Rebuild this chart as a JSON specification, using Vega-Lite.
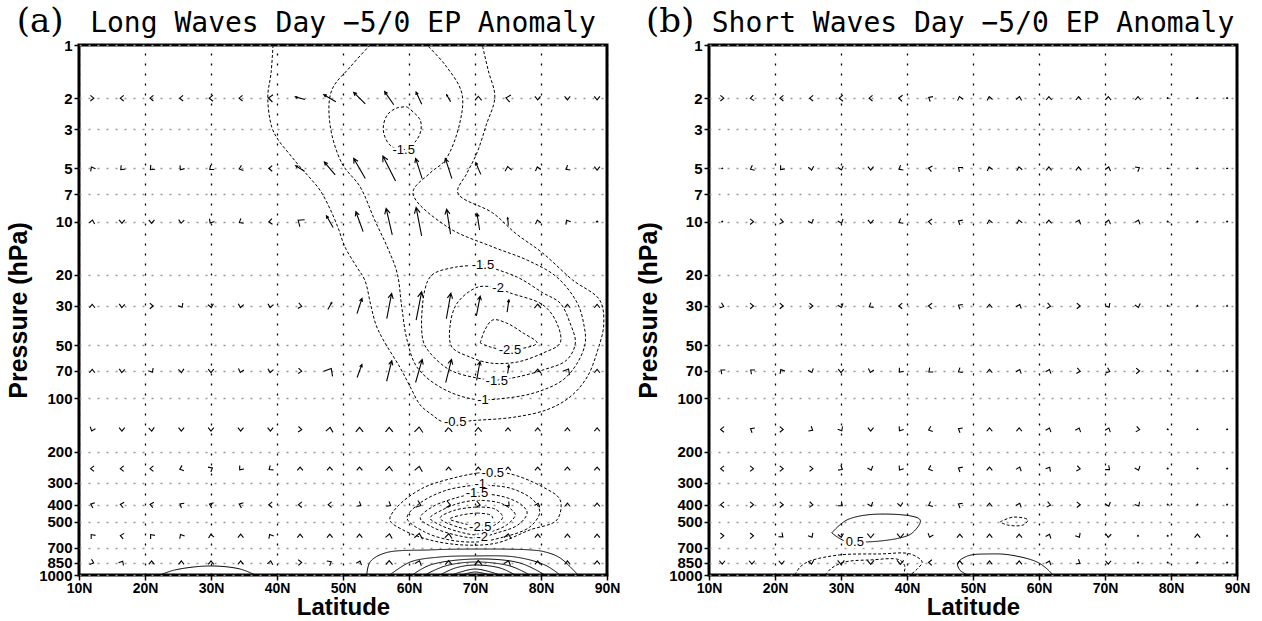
{
"$schema": "https://vega.github.io/schema/vega-lite/v6.json",
"background": "white",
"padding": {"left": 5, "top": 3, "right": 5, "bottom": 0},
"bounds": "flush",
"spacing": 102,
"config": {
 "view": {"stroke": "black", "strokeWidth": 3},
 "axis": {"labelFont": "Liberation Sans", "labelFontWeight": "bold", "labelFontSize": 14, "labelColor": "black", "tickColor": "black", "tickWidth": 1.5, "tickSize": 5, "domain": false, "titleColor": "black", "titleFont": "Liberation Sans", "titleFontWeight": "bold", "labelOverlap": false, "labelBound": false, "gridOpacity": 1},
 "axisX": {"gridColor": "black", "gridDash": [2, 8], "gridWidth": 1.3, "labelFlush": false, "titleFontSize": 24, "labelPadding": 1, "titlePadding": 0},
 "axisY": {"gridColor": "#999999", "gridDash": [2, 7], "gridWidth": 1.3, "titleFontSize": 25, "labelFontSize": 15, "labelPadding": 2, "titlePadding": 7},
 "title": {"font": "DejaVu Sans Mono", "fontSize": 28, "fontWeight": "normal", "color": "black", "anchor": "middle", "offset": -33}
},
"datasets": {
"tags": [{"g":"a","t":"(a)","lat":4.1,"p":0.74},{"g":"b","t":"(b)","lat":4.1,"p":0.74}],
"labels": [
{"g":"a","t":"-1.5","lat":59.2,"p":3.93},
{"g":"a","t":"-1.5","lat":71.2,"p":17.6},
{"g":"a","t":"-2","lat":73.5,"p":23.7},
{"g":"a","t":"-2.5","lat":75.3,"p":53.2},
{"g":"a","t":"-1.5","lat":73.3,"p":79.8},
{"g":"a","t":"-1","lat":71.2,"p":102},
{"g":"a","t":"-0.5","lat":67.0,"p":136},
{"g":"a","t":"-0.5","lat":72.7,"p":265},
{"g":"a","t":"-1","lat":70.8,"p":305},
{"g":"a","t":"-1.5","lat":70.3,"p":343},
{"g":"a","t":"-2.5","lat":70.8,"p":535},
{"g":"a","t":"-2","lat":71.1,"p":609},
{"g":"b","t":"0.5","lat":32.1,"p":650}
],
"contours": [
{"g":"a","id":"c1","s":"neg","o":1,"lat":39.4,"p":1},
{"g":"a","id":"c1","s":"neg","o":2,"lat":39.1,"p":1.44},
{"g":"a","id":"c1","s":"neg","o":3,"lat":38.6,"p":1.97},
{"g":"a","id":"c1","s":"neg","o":4,"lat":39.2,"p":2.91},
{"g":"a","id":"c1","s":"neg","o":5,"lat":40.2,"p":3.45},
{"g":"a","id":"c1","s":"neg","o":6,"lat":42.0,"p":4.19},
{"g":"a","id":"c1","s":"neg","o":7,"lat":43.5,"p":4.9},
{"g":"a","id":"c1","s":"neg","o":8,"lat":45.0,"p":5.66},
{"g":"a","id":"c1","s":"neg","o":9,"lat":46.5,"p":6.62},
{"g":"a","id":"c1","s":"neg","o":10,"lat":47.9,"p":8.26},
{"g":"a","id":"c1","s":"neg","o":11,"lat":49.2,"p":10.7},
{"g":"a","id":"c1","s":"neg","o":12,"lat":50.3,"p":13.9},
{"g":"a","id":"c1","s":"neg","o":13,"lat":52.1,"p":18.1},
{"g":"a","id":"c1","s":"neg","o":14,"lat":53.3,"p":21.4},
{"g":"a","id":"c1","s":"neg","o":15,"lat":54.2,"p":29.6},
{"g":"a","id":"c1","s":"neg","o":16,"lat":55.0,"p":38.4},
{"g":"a","id":"c1","s":"neg","o":17,"lat":56.1,"p":46.7},
{"g":"a","id":"c1","s":"neg","o":18,"lat":58.6,"p":66.5},
{"g":"a","id":"c1","s":"neg","o":19,"lat":60.2,"p":86.3},
{"g":"a","id":"c1","s":"neg","o":20,"lat":61.7,"p":109},
{"g":"a","id":"c1","s":"neg","o":21,"lat":63.5,"p":124},
{"g":"a","id":"c1","s":"neg","o":22,"lat":65.2,"p":136},
{"g":"a","id":"c1","s":"neg","o":23,"lat":70.3,"p":133},
{"g":"a","id":"c1","s":"neg","o":24,"lat":75.8,"p":128},
{"g":"a","id":"c1","s":"neg","o":25,"lat":80.9,"p":116},
{"g":"a","id":"c1","s":"neg","o":26,"lat":84.4,"p":98.2},
{"g":"a","id":"c1","s":"neg","o":27,"lat":87.0,"p":75.7},
{"g":"a","id":"c1","s":"neg","o":28,"lat":88.6,"p":53.2},
{"g":"a","id":"c1","s":"neg","o":29,"lat":89.5,"p":38.4},
{"g":"a","id":"c1","s":"neg","o":30,"lat":88.9,"p":27.8},
{"g":"a","id":"c1","s":"neg","o":31,"lat":84.8,"p":21.4},
{"g":"a","id":"c1","s":"neg","o":32,"lat":80.2,"p":15},
{"g":"a","id":"c1","s":"neg","o":33,"lat":76.1,"p":11.6},
{"g":"a","id":"c1","s":"neg","o":34,"lat":72.7,"p":8.93},
{"g":"a","id":"c1","s":"neg","o":35,"lat":67.4,"p":6.88},
{"g":"a","id":"c1","s":"neg","o":36,"lat":68.8,"p":5.3},
{"g":"a","id":"c1","s":"neg","o":37,"lat":70.3,"p":4.08},
{"g":"a","id":"c1","s":"neg","o":38,"lat":71.7,"p":2.84},
{"g":"a","id":"c1","s":"neg","o":39,"lat":73.0,"p":1.97},
{"g":"a","id":"c1","s":"neg","o":40,"lat":72.0,"p":1.39},
{"g":"a","id":"c1","s":"neg","o":41,"lat":71.1,"p":1},
{"g":"a","id":"c2","s":"neg","o":1,"lat":54.1,"p":1},
{"g":"a","id":"c2","s":"neg","o":2,"lat":51.1,"p":1.33},
{"g":"a","id":"c2","s":"neg","o":3,"lat":48.3,"p":1.8},
{"g":"a","id":"c2","s":"neg","o":4,"lat":48.0,"p":2.76},
{"g":"a","id":"c2","s":"neg","o":5,"lat":49.8,"p":4.65},
{"g":"a","id":"c2","s":"neg","o":6,"lat":52.6,"p":6.36},
{"g":"a","id":"c2","s":"neg","o":7,"lat":54.8,"p":9.79},
{"g":"a","id":"c2","s":"neg","o":8,"lat":56.7,"p":13.9},
{"g":"a","id":"c2","s":"neg","o":9,"lat":58.2,"p":19.5},
{"g":"a","id":"c2","s":"neg","o":10,"lat":58.9,"p":30.4},
{"g":"a","id":"c2","s":"neg","o":11,"lat":59.7,"p":46.7},
{"g":"a","id":"c2","s":"neg","o":12,"lat":61.2,"p":66.5},
{"g":"a","id":"c2","s":"neg","o":13,"lat":64.7,"p":86.3},
{"g":"a","id":"c2","s":"neg","o":14,"lat":69.7,"p":101},
{"g":"a","id":"c2","s":"neg","o":15,"lat":74.8,"p":99.6},
{"g":"a","id":"c2","s":"neg","o":16,"lat":79.4,"p":92.1},
{"g":"a","id":"c2","s":"neg","o":17,"lat":83.3,"p":78.8},
{"g":"a","id":"c2","s":"neg","o":18,"lat":85.5,"p":63.1},
{"g":"a","id":"c2","s":"neg","o":19,"lat":86.7,"p":48.6},
{"g":"a","id":"c2","s":"neg","o":20,"lat":86.5,"p":38.4},
{"g":"a","id":"c2","s":"neg","o":21,"lat":85.5,"p":28.9},
{"g":"a","id":"c2","s":"neg","o":22,"lat":82.4,"p":20.6},
{"g":"a","id":"c2","s":"neg","o":23,"lat":77.9,"p":16.5},
{"g":"a","id":"c2","s":"neg","o":24,"lat":72.7,"p":13.9},
{"g":"a","id":"c2","s":"neg","o":25,"lat":65.8,"p":10.7},
{"g":"a","id":"c2","s":"neg","o":26,"lat":60.6,"p":6.88},
{"g":"a","id":"c2","s":"neg","o":27,"lat":63.2,"p":5.3},
{"g":"a","id":"c2","s":"neg","o":28,"lat":65.5,"p":4.48},
{"g":"a","id":"c2","s":"neg","o":29,"lat":67.7,"p":2.76},
{"g":"a","id":"c2","s":"neg","o":30,"lat":68.0,"p":1.87},
{"g":"a","id":"c2","s":"neg","o":31,"lat":65.5,"p":1.3},
{"g":"a","id":"c2","s":"neg","o":32,"lat":62.7,"p":1},
{"g":"a","id":"c3","s":"neg","o":1,"lat":59.7,"p":2.24},
{"g":"a","id":"c3","s":"neg","o":2,"lat":61.7,"p":2.66},
{"g":"a","id":"c3","s":"neg","o":3,"lat":61.7,"p":3.15},
{"g":"a","id":"c3","s":"neg","o":4,"lat":60.5,"p":3.68},
{"g":"a","id":"c3","s":"neg","o":5,"lat":59.1,"p":3.93},
{"g":"a","id":"c3","s":"neg","o":6,"lat":57.1,"p":3.68},
{"g":"a","id":"c3","s":"neg","o":7,"lat":56.1,"p":3.03},
{"g":"a","id":"c3","s":"neg","o":8,"lat":56.7,"p":2.49},
{"g":"a","id":"c3","s":"neg","o":9,"lat":58.2,"p":2.27},
{"g":"a","id":"c3","s":"neg","o":10,"lat":59.7,"p":2.24},
{"g":"a","id":"c4","s":"neg","o":1,"lat":71.2,"p":17.6},
{"g":"a","id":"c4","s":"neg","o":2,"lat":67.0,"p":18.1},
{"g":"a","id":"c4","s":"neg","o":3,"lat":63.5,"p":20.0},
{"g":"a","id":"c4","s":"neg","o":4,"lat":62.4,"p":24.3},
{"g":"a","id":"c4","s":"neg","o":5,"lat":62.1,"p":46.7},
{"g":"a","id":"c4","s":"neg","o":6,"lat":63.2,"p":55.4},
{"g":"a","id":"c4","s":"neg","o":7,"lat":66.2,"p":69.1},
{"g":"a","id":"c4","s":"neg","o":8,"lat":70.3,"p":76.7},
{"g":"a","id":"c4","s":"neg","o":9,"lat":73.3,"p":78.8},
{"g":"a","id":"c4","s":"neg","o":10,"lat":76.4,"p":75.7},
{"g":"a","id":"c4","s":"neg","o":11,"lat":80.3,"p":69.1},
{"g":"a","id":"c4","s":"neg","o":12,"lat":83.9,"p":60.7},
{"g":"a","id":"c4","s":"neg","o":13,"lat":85.2,"p":48.6},
{"g":"a","id":"c4","s":"neg","o":14,"lat":84.4,"p":37.5},
{"g":"a","id":"c4","s":"neg","o":15,"lat":82.9,"p":28.9},
{"g":"a","id":"c4","s":"neg","o":16,"lat":80.3,"p":25.3},
{"g":"a","id":"c4","s":"neg","o":17,"lat":76.4,"p":20.6},
{"g":"a","id":"c4","s":"neg","o":18,"lat":71.2,"p":17.6},
{"g":"a","id":"c5","s":"neg","o":1,"lat":73.5,"p":23.7},
{"g":"a","id":"c5","s":"neg","o":2,"lat":70.5,"p":23.4},
{"g":"a","id":"c5","s":"neg","o":3,"lat":67.3,"p":28.9},
{"g":"a","id":"c5","s":"neg","o":4,"lat":66.2,"p":39.5},
{"g":"a","id":"c5","s":"neg","o":5,"lat":66.5,"p":51.2},
{"g":"a","id":"c5","s":"neg","o":6,"lat":69.2,"p":58.3},
{"g":"a","id":"c5","s":"neg","o":7,"lat":72.3,"p":63.1},
{"g":"a","id":"c5","s":"neg","o":8,"lat":76.4,"p":62.3},
{"g":"a","id":"c5","s":"neg","o":9,"lat":80.3,"p":55.4},
{"g":"a","id":"c5","s":"neg","o":10,"lat":82.9,"p":48.6},
{"g":"a","id":"c5","s":"neg","o":11,"lat":82.4,"p":37.5},
{"g":"a","id":"c5","s":"neg","o":12,"lat":80.3,"p":29.6},
{"g":"a","id":"c5","s":"neg","o":13,"lat":75.3,"p":25.3},
{"g":"a","id":"c5","s":"neg","o":14,"lat":73.5,"p":23.7},
{"g":"a","id":"c6","s":"neg","o":1,"lat":70.8,"p":48.6},
{"g":"a","id":"c6","s":"neg","o":2,"lat":71.5,"p":41.0},
{"g":"a","id":"c6","s":"neg","o":3,"lat":72.7,"p":36.0},
{"g":"a","id":"c6","s":"neg","o":4,"lat":74.8,"p":37.5},
{"g":"a","id":"c6","s":"neg","o":5,"lat":77.3,"p":42.7},
{"g":"a","id":"c6","s":"neg","o":6,"lat":79.4,"p":48.6},
{"g":"a","id":"c6","s":"neg","o":7,"lat":75.3,"p":53.2},
{"g":"a","id":"c6","s":"neg","o":8,"lat":72.3,"p":51.2},
{"g":"a","id":"c6","s":"neg","o":9,"lat":70.8,"p":48.6},
{"g":"a","id":"e1","s":"neg","o":1,"lat":70.3,"p":265},
{"g":"a","id":"e1","s":"neg","o":2,"lat":74.8,"p":265},
{"g":"a","id":"e1","s":"neg","o":3,"lat":80.3,"p":318},
{"g":"a","id":"e1","s":"neg","o":4,"lat":82.9,"p":376},
{"g":"a","id":"e1","s":"neg","o":5,"lat":82.4,"p":488},
{"g":"a","id":"e1","s":"neg","o":6,"lat":78.3,"p":556},
{"g":"a","id":"e1","s":"neg","o":7,"lat":73.3,"p":659},
{"g":"a","id":"e1","s":"neg","o":8,"lat":68.2,"p":676},
{"g":"a","id":"e1","s":"neg","o":9,"lat":63.2,"p":634},
{"g":"a","id":"e1","s":"neg","o":10,"lat":59.1,"p":556},
{"g":"a","id":"e1","s":"neg","o":11,"lat":57.1,"p":488},
{"g":"a","id":"e1","s":"neg","o":12,"lat":58.2,"p":412},
{"g":"a","id":"e1","s":"neg","o":13,"lat":62.1,"p":322},
{"g":"a","id":"e1","s":"neg","o":14,"lat":67.3,"p":279},
{"g":"a","id":"e1","s":"neg","o":15,"lat":70.3,"p":265},
{"g":"a","id":"e2","s":"neg","o":1,"lat":70.3,"p":309},
{"g":"a","id":"e2","s":"neg","o":2,"lat":75.3,"p":322},
{"g":"a","id":"e2","s":"neg","o":3,"lat":78.8,"p":376},
{"g":"a","id":"e2","s":"neg","o":4,"lat":79.8,"p":440},
{"g":"a","id":"e2","s":"neg","o":5,"lat":78.3,"p":535},
{"g":"a","id":"e2","s":"neg","o":6,"lat":73.8,"p":617},
{"g":"a","id":"e2","s":"neg","o":7,"lat":70.3,"p":650},
{"g":"a","id":"e2","s":"neg","o":8,"lat":66.2,"p":634},
{"g":"a","id":"e2","s":"neg","o":9,"lat":62.4,"p":571},
{"g":"a","id":"e2","s":"neg","o":10,"lat":59.7,"p":476},
{"g":"a","id":"e2","s":"neg","o":11,"lat":61.7,"p":391},
{"g":"a","id":"e2","s":"neg","o":12,"lat":65.8,"p":330},
{"g":"a","id":"e2","s":"neg","o":13,"lat":70.3,"p":309},
{"g":"a","id":"e3","s":"neg","o":1,"lat":70.3,"p":343},
{"g":"a","id":"e3","s":"neg","o":2,"lat":74.5,"p":362},
{"g":"a","id":"e3","s":"neg","o":3,"lat":77.1,"p":402},
{"g":"a","id":"e3","s":"neg","o":4,"lat":77.9,"p":446},
{"g":"a","id":"e3","s":"neg","o":5,"lat":76.5,"p":521},
{"g":"a","id":"e3","s":"neg","o":6,"lat":73.3,"p":578},
{"g":"a","id":"e3","s":"neg","o":7,"lat":70.3,"p":617},
{"g":"a","id":"e3","s":"neg","o":8,"lat":67.0,"p":593},
{"g":"a","id":"e3","s":"neg","o":9,"lat":63.5,"p":535},
{"g":"a","id":"e3","s":"neg","o":10,"lat":61.7,"p":476},
{"g":"a","id":"e3","s":"neg","o":11,"lat":63.5,"p":412},
{"g":"a","id":"e3","s":"neg","o":12,"lat":67.0,"p":367},
{"g":"a","id":"e3","s":"neg","o":13,"lat":70.3,"p":343},
{"g":"a","id":"e4","s":"neg","o":1,"lat":70.3,"p":376},
{"g":"a","id":"e4","s":"neg","o":2,"lat":73.8,"p":391},
{"g":"a","id":"e4","s":"neg","o":3,"lat":75.6,"p":429},
{"g":"a","id":"e4","s":"neg","o":4,"lat":76.1,"p":457},
{"g":"a","id":"e4","s":"neg","o":5,"lat":74.8,"p":521},
{"g":"a","id":"e4","s":"neg","o":6,"lat":72.3,"p":571},
{"g":"a","id":"e4","s":"neg","o":7,"lat":70.3,"p":593},
{"g":"a","id":"e4","s":"neg","o":8,"lat":67.7,"p":571},
{"g":"a","id":"e4","s":"neg","o":9,"lat":64.7,"p":521},
{"g":"a","id":"e4","s":"neg","o":10,"lat":63.2,"p":476},
{"g":"a","id":"e4","s":"neg","o":11,"lat":65.0,"p":429},
{"g":"a","id":"e4","s":"neg","o":12,"lat":67.7,"p":391},
{"g":"a","id":"e4","s":"neg","o":13,"lat":70.3,"p":376},
{"g":"a","id":"e5","s":"neg","o":1,"lat":70.3,"p":412},
{"g":"a","id":"e5","s":"neg","o":2,"lat":73.0,"p":423},
{"g":"a","id":"e5","s":"neg","o":3,"lat":74.2,"p":470},
{"g":"a","id":"e5","s":"neg","o":4,"lat":73.0,"p":521},
{"g":"a","id":"e5","s":"neg","o":5,"lat":70.3,"p":556},
{"g":"a","id":"e5","s":"neg","o":6,"lat":67.4,"p":535},
{"g":"a","id":"e5","s":"neg","o":7,"lat":64.7,"p":476},
{"g":"a","id":"e5","s":"neg","o":8,"lat":67.0,"p":429},
{"g":"a","id":"e5","s":"neg","o":9,"lat":70.3,"p":412},
{"g":"a","id":"e6","s":"neg","o":1,"lat":70.3,"p":446},
{"g":"a","id":"e6","s":"neg","o":2,"lat":72.3,"p":457},
{"g":"a","id":"e6","s":"neg","o":3,"lat":72.7,"p":476},
{"g":"a","id":"e6","s":"neg","o":4,"lat":72.0,"p":508},
{"g":"a","id":"e6","s":"neg","o":5,"lat":70.3,"p":528},
{"g":"a","id":"e6","s":"neg","o":6,"lat":68.0,"p":508},
{"g":"a","id":"e6","s":"neg","o":7,"lat":66.2,"p":482},
{"g":"a","id":"e6","s":"neg","o":8,"lat":68.0,"p":457},
{"g":"a","id":"e6","s":"neg","o":9,"lat":70.3,"p":446},
{"g":"a","id":"s0","s":"pos","o":1,"lat":22.3,"p":1000},
{"g":"a","id":"s0","s":"pos","o":2,"lat":24.5,"p":937},
{"g":"a","id":"s0","s":"pos","o":3,"lat":29.8,"p":889},
{"g":"a","id":"s0","s":"pos","o":4,"lat":34.4,"p":925},
{"g":"a","id":"s0","s":"pos","o":5,"lat":36.7,"p":1000},
{"g":"a","id":"s1","s":"pos","o":1,"lat":53.6,"p":1000},
{"g":"a","id":"s1","s":"pos","o":2,"lat":54.1,"p":844},
{"g":"a","id":"s1","s":"pos","o":3,"lat":56.4,"p":750},
{"g":"a","id":"s1","s":"pos","o":4,"lat":63.2,"p":721},
{"g":"a","id":"s1","s":"pos","o":5,"lat":70.0,"p":713},
{"g":"a","id":"s1","s":"pos","o":6,"lat":78.3,"p":721},
{"g":"a","id":"s1","s":"pos","o":7,"lat":80.6,"p":740},
{"g":"a","id":"s1","s":"pos","o":8,"lat":82.9,"p":801},
{"g":"a","id":"s1","s":"pos","o":9,"lat":85.6,"p":1000},
{"g":"a","id":"s2","s":"pos","o":1,"lat":57.1,"p":1000},
{"g":"a","id":"s2","s":"pos","o":2,"lat":60.2,"p":844},
{"g":"a","id":"s2","s":"pos","o":3,"lat":64.7,"p":791},
{"g":"a","id":"s2","s":"pos","o":4,"lat":70.0,"p":780},
{"g":"a","id":"s2","s":"pos","o":5,"lat":76.1,"p":791},
{"g":"a","id":"s2","s":"pos","o":6,"lat":80.6,"p":878},
{"g":"a","id":"s2","s":"pos","o":7,"lat":82.9,"p":1000},
{"g":"a","id":"s3","s":"pos","o":1,"lat":60.5,"p":1000},
{"g":"a","id":"s3","s":"pos","o":2,"lat":63.2,"p":878},
{"g":"a","id":"s3","s":"pos","o":3,"lat":70.0,"p":812},
{"g":"a","id":"s3","s":"pos","o":4,"lat":76.8,"p":855},
{"g":"a","id":"s3","s":"pos","o":5,"lat":80.6,"p":1000},
{"g":"a","id":"s4","s":"pos","o":1,"lat":62.4,"p":1000},
{"g":"a","id":"s4","s":"pos","o":2,"lat":65.5,"p":889},
{"g":"a","id":"s4","s":"pos","o":3,"lat":70.0,"p":844},
{"g":"a","id":"s4","s":"pos","o":4,"lat":75.3,"p":889},
{"g":"a","id":"s4","s":"pos","o":5,"lat":78.3,"p":1000},
{"g":"a","id":"s5","s":"pos","o":1,"lat":64.7,"p":1000},
{"g":"a","id":"s5","s":"pos","o":2,"lat":67.0,"p":913},
{"g":"a","id":"s5","s":"pos","o":3,"lat":70.0,"p":878},
{"g":"a","id":"s5","s":"pos","o":4,"lat":73.8,"p":913},
{"g":"a","id":"s5","s":"pos","o":5,"lat":76.1,"p":1000},
{"g":"a","id":"s6","s":"pos","o":1,"lat":66.5,"p":1000},
{"g":"a","id":"s6","s":"pos","o":2,"lat":70.0,"p":925},
{"g":"a","id":"s6","s":"pos","o":3,"lat":73.8,"p":1000},
{"g":"a","id":"s7","s":"pos","o":1,"lat":68.0,"p":1000},
{"g":"a","id":"s7","s":"pos","o":2,"lat":70.0,"p":962},
{"g":"a","id":"s7","s":"pos","o":3,"lat":72.3,"p":1000},
{"g":"b","id":"r1","s":"pos","o":1,"lat":28.6,"p":578},
{"g":"b","id":"r1","s":"pos","o":2,"lat":30.9,"p":488},
{"g":"b","id":"r1","s":"pos","o":3,"lat":35.9,"p":452},
{"g":"b","id":"r1","s":"pos","o":4,"lat":42.0,"p":488},
{"g":"b","id":"r1","s":"pos","o":5,"lat":40.8,"p":578},
{"g":"b","id":"r1","s":"pos","o":6,"lat":38.9,"p":617},
{"g":"b","id":"r1","s":"pos","o":7,"lat":33.9,"p":650},
{"g":"b","id":"r1","s":"pos","o":8,"lat":30.6,"p":642},
{"g":"b","id":"r1","s":"pos","o":9,"lat":28.6,"p":578},
{"g":"b","id":"r2","s":"neg","o":1,"lat":54.1,"p":501},
{"g":"b","id":"r2","s":"neg","o":2,"lat":56.1,"p":470},
{"g":"b","id":"r2","s":"neg","o":3,"lat":58.3,"p":488},
{"g":"b","id":"r2","s":"neg","o":4,"lat":57.6,"p":521},
{"g":"b","id":"r2","s":"neg","o":5,"lat":55.2,"p":521},
{"g":"b","id":"r2","s":"neg","o":6,"lat":54.1,"p":501},
{"g":"b","id":"r3","s":"neg","o":1,"lat":23.0,"p":1000},
{"g":"b","id":"r3","s":"neg","o":2,"lat":23.8,"p":901},
{"g":"b","id":"r3","s":"neg","o":3,"lat":25.3,"p":833},
{"g":"b","id":"r3","s":"neg","o":4,"lat":29.8,"p":770},
{"g":"b","id":"r3","s":"neg","o":5,"lat":35.9,"p":760},
{"g":"b","id":"r3","s":"neg","o":6,"lat":40.5,"p":760},
{"g":"b","id":"r3","s":"neg","o":7,"lat":42.3,"p":844},
{"g":"b","id":"r3","s":"neg","o":8,"lat":41.7,"p":913},
{"g":"b","id":"r3","s":"neg","o":9,"lat":40.5,"p":1000},
{"g":"b","id":"r4","s":"neg","o":1,"lat":27.6,"p":1000},
{"g":"b","id":"r4","s":"neg","o":2,"lat":28.6,"p":913},
{"g":"b","id":"r4","s":"neg","o":3,"lat":30.6,"p":844},
{"g":"b","id":"r4","s":"neg","o":4,"lat":34.4,"p":822},
{"g":"b","id":"r4","s":"neg","o":5,"lat":38.9,"p":822},
{"g":"b","id":"r4","s":"neg","o":6,"lat":39.7,"p":901},
{"g":"b","id":"r4","s":"neg","o":7,"lat":39.4,"p":1000},
{"g":"b","id":"r5","s":"pos","o":1,"lat":49.2,"p":1000},
{"g":"b","id":"r5","s":"pos","o":2,"lat":48.0,"p":937},
{"g":"b","id":"r5","s":"pos","o":3,"lat":47.7,"p":855},
{"g":"b","id":"r5","s":"pos","o":4,"lat":49.2,"p":780},
{"g":"b","id":"r5","s":"pos","o":5,"lat":52.6,"p":760},
{"g":"b","id":"r5","s":"pos","o":6,"lat":55.6,"p":770},
{"g":"b","id":"r5","s":"pos","o":7,"lat":59.7,"p":844},
{"g":"b","id":"r5","s":"pos","o":8,"lat":61.4,"p":937},
{"g":"b","id":"r5","s":"pos","o":9,"lat":62.1,"p":1000}
],
"arrows": [
{"g":"a","p":2,"lat":12,"dir":90,"mag":1},{"g":"a","p":2,"lat":16.5,"dir":270,"mag":1},{"g":"a","p":2,"lat":21,"dir":270,"mag":1},{"g":"a","p":2,"lat":25.5,"dir":270,"mag":1},{"g":"a","p":2,"lat":30,"dir":270,"mag":1.1},{"g":"a","p":2,"lat":34.5,"dir":270,"mag":1},{"g":"a","p":2,"lat":39,"dir":275,"mag":1.3},{"g":"a","p":2,"lat":43.5,"dir":285,"mag":2.5},{"g":"a","p":2,"lat":48,"dir":300,"mag":3.5},{"g":"a","p":2,"lat":52.5,"dir":315,"mag":4.1},{"g":"a","p":2,"lat":57,"dir":325,"mag":4},{"g":"a","p":2,"lat":61.5,"dir":335,"mag":3.4},{"g":"a","p":2,"lat":66,"dir":330,"mag":2},{"g":"a","p":2,"lat":70.5,"dir":0,"mag":1.2},{"g":"a","p":2,"lat":75,"dir":280,"mag":1.3},{"g":"a","p":2,"lat":79.5,"dir":180,"mag":1},{"g":"a","p":2,"lat":84,"dir":180,"mag":1},{"g":"a","p":2,"lat":88.5,"dir":180,"mag":1},
{"g":"a","p":5,"lat":12,"dir":330,"mag":1},{"g":"a","p":5,"lat":16.5,"dir":225,"mag":1},{"g":"a","p":5,"lat":21,"dir":225,"mag":1.1},{"g":"a","p":5,"lat":25.5,"dir":215,"mag":1},{"g":"a","p":5,"lat":30,"dir":230,"mag":1},{"g":"a","p":5,"lat":34.5,"dir":250,"mag":1},{"g":"a","p":5,"lat":39,"dir":270,"mag":1},{"g":"a","p":5,"lat":43.5,"dir":302,"mag":2.6},{"g":"a","p":5,"lat":48,"dir":320,"mag":4.2},{"g":"a","p":5,"lat":52.5,"dir":330,"mag":5.8},{"g":"a","p":5,"lat":57,"dir":333,"mag":7},{"g":"a","p":5,"lat":61.5,"dir":342,"mag":5.3},{"g":"a","p":5,"lat":66,"dir":342,"mag":5.3},{"g":"a","p":5,"lat":70.5,"dir":337,"mag":3.2},{"g":"a","p":5,"lat":75,"dir":350,"mag":1.2},{"g":"a","p":5,"lat":79.5,"dir":345,"mag":1},{"g":"a","p":5,"lat":84,"dir":240,"mag":1},{"g":"a","p":5,"lat":88.5,"dir":180,"mag":1},
{"g":"a","p":10,"lat":12,"dir":10,"mag":1},{"g":"a","p":10,"lat":16.5,"dir":180,"mag":1},{"g":"a","p":10,"lat":21,"dir":180,"mag":1},{"g":"a","p":10,"lat":25.5,"dir":185,"mag":1},{"g":"a","p":10,"lat":30,"dir":210,"mag":1},{"g":"a","p":10,"lat":34.5,"dir":240,"mag":1},{"g":"a","p":10,"lat":39,"dir":265,"mag":1},{"g":"a","p":10,"lat":43.5,"dir":305,"mag":1.5},{"g":"a","p":10,"lat":48,"dir":330,"mag":3.4},{"g":"a","p":10,"lat":52.5,"dir":340,"mag":5.3},{"g":"a","p":10,"lat":57,"dir":347,"mag":6.8},{"g":"a","p":10,"lat":61.5,"dir":349,"mag":7.2},{"g":"a","p":10,"lat":66,"dir":351,"mag":6.3},{"g":"a","p":10,"lat":70.5,"dir":351,"mag":4.2},{"g":"a","p":10,"lat":75,"dir":355,"mag":2},{"g":"a","p":10,"lat":79.5,"dir":345,"mag":1},{"g":"a","p":10,"lat":84,"dir":330,"mag":1},{"g":"a","p":10,"lat":88.5,"dir":0,"mag":0.4},
{"g":"a","p":30,"lat":12,"dir":0,"mag":1},{"g":"a","p":30,"lat":16.5,"dir":185,"mag":1},{"g":"a","p":30,"lat":21,"dir":90,"mag":1},{"g":"a","p":30,"lat":25.5,"dir":150,"mag":1},{"g":"a","p":30,"lat":30,"dir":170,"mag":1},{"g":"a","p":30,"lat":34.5,"dir":190,"mag":1},{"g":"a","p":30,"lat":39,"dir":190,"mag":1},{"g":"a","p":30,"lat":43.5,"dir":100,"mag":1},{"g":"a","p":30,"lat":48,"dir":30,"mag":2},{"g":"a","p":30,"lat":52.5,"dir":18,"mag":4},{"g":"a","p":30,"lat":57,"dir":11,"mag":6.4},{"g":"a","p":30,"lat":61.5,"dir":11,"mag":7.2},{"g":"a","p":30,"lat":66,"dir":10,"mag":6.5},{"g":"a","p":30,"lat":70.5,"dir":11,"mag":5},{"g":"a","p":30,"lat":75,"dir":8,"mag":3.1},{"g":"a","p":30,"lat":79.5,"dir":0,"mag":1.2},{"g":"a","p":30,"lat":84,"dir":0,"mag":1},{"g":"a","p":30,"lat":88.5,"dir":0,"mag":1},
{"g":"a","p":70,"lat":12,"dir":0,"mag":1},{"g":"a","p":70,"lat":16.5,"dir":185,"mag":1},{"g":"a","p":70,"lat":21,"dir":150,"mag":1},{"g":"a","p":70,"lat":25.5,"dir":175,"mag":1},{"g":"a","p":70,"lat":30,"dir":180,"mag":1},{"g":"a","p":70,"lat":34.5,"dir":195,"mag":1},{"g":"a","p":70,"lat":39,"dir":190,"mag":1},{"g":"a","p":70,"lat":43.5,"dir":95,"mag":1},{"g":"a","p":70,"lat":48,"dir":30,"mag":1.8},{"g":"a","p":70,"lat":52.5,"dir":20,"mag":3.5},{"g":"a","p":70,"lat":57,"dir":14,"mag":5.3},{"g":"a","p":70,"lat":61.5,"dir":16,"mag":6},{"g":"a","p":70,"lat":66,"dir":14,"mag":6},{"g":"a","p":70,"lat":70.5,"dir":10,"mag":4.8},{"g":"a","p":70,"lat":75,"dir":8,"mag":3},{"g":"a","p":70,"lat":79.5,"dir":0,"mag":1.2},{"g":"a","p":70,"lat":84,"dir":30,"mag":1.4},{"g":"a","p":70,"lat":88.5,"dir":0,"mag":1},
{"g":"a","p":150,"lat":12,"dir":200,"mag":1},{"g":"a","p":150,"lat":16.5,"dir":180,"mag":1},{"g":"a","p":150,"lat":21,"dir":175,"mag":1},{"g":"a","p":150,"lat":25.5,"dir":180,"mag":1},{"g":"a","p":150,"lat":30,"dir":180,"mag":1},{"g":"a","p":150,"lat":34.5,"dir":180,"mag":1},{"g":"a","p":150,"lat":39,"dir":180,"mag":1},{"g":"a","p":150,"lat":43.5,"dir":95,"mag":1},{"g":"a","p":150,"lat":48,"dir":10,"mag":1.3},{"g":"a","p":150,"lat":52.5,"dir":0,"mag":1.3},{"g":"a","p":150,"lat":57,"dir":0,"mag":1.3},{"g":"a","p":150,"lat":61.5,"dir":5,"mag":1.5},{"g":"a","p":150,"lat":66,"dir":0,"mag":1.3},{"g":"a","p":150,"lat":70.5,"dir":0,"mag":1.2},{"g":"a","p":150,"lat":75,"dir":0,"mag":1},{"g":"a","p":150,"lat":79.5,"dir":0,"mag":1},{"g":"a","p":150,"lat":84,"dir":0,"mag":1},{"g":"a","p":150,"lat":88.5,"dir":0,"mag":1},
{"g":"a","p":250,"lat":12,"dir":270,"mag":1},{"g":"a","p":250,"lat":16.5,"dir":270,"mag":1},{"g":"a","p":250,"lat":21,"dir":270,"mag":1},{"g":"a","p":250,"lat":25.5,"dir":250,"mag":1},{"g":"a","p":250,"lat":30,"dir":60,"mag":1},{"g":"a","p":250,"lat":34.5,"dir":220,"mag":1},{"g":"a","p":250,"lat":39,"dir":235,"mag":1},{"g":"a","p":250,"lat":43.5,"dir":0,"mag":1},{"g":"a","p":250,"lat":48,"dir":0,"mag":1},{"g":"a","p":250,"lat":52.5,"dir":0,"mag":1},{"g":"a","p":250,"lat":57,"dir":5,"mag":1.3},{"g":"a","p":250,"lat":61.5,"dir":10,"mag":1.4},{"g":"a","p":250,"lat":66,"dir":0,"mag":1},{"g":"a","p":250,"lat":70.5,"dir":0,"mag":1},{"g":"a","p":250,"lat":75,"dir":0,"mag":1},{"g":"a","p":250,"lat":79.5,"dir":0,"mag":1},{"g":"a","p":250,"lat":84,"dir":0,"mag":1},{"g":"a","p":250,"lat":88.5,"dir":0,"mag":1},
{"g":"a","p":400,"lat":12,"dir":290,"mag":1},{"g":"a","p":400,"lat":16.5,"dir":280,"mag":1},{"g":"a","p":400,"lat":21,"dir":280,"mag":1},{"g":"a","p":400,"lat":25.5,"dir":300,"mag":1},{"g":"a","p":400,"lat":30,"dir":290,"mag":1},{"g":"a","p":400,"lat":34.5,"dir":290,"mag":1},{"g":"a","p":400,"lat":39,"dir":270,"mag":1},{"g":"a","p":400,"lat":43.5,"dir":270,"mag":1},{"g":"a","p":400,"lat":48,"dir":270,"mag":1},{"g":"a","p":400,"lat":52.5,"dir":120,"mag":1},{"g":"a","p":400,"lat":57,"dir":120,"mag":1},{"g":"a","p":400,"lat":61.5,"dir":110,"mag":1.3},{"g":"a","p":400,"lat":66,"dir":100,"mag":1.2},{"g":"a","p":400,"lat":70.5,"dir":100,"mag":1.2},{"g":"a","p":400,"lat":75,"dir":135,"mag":1},{"g":"a","p":400,"lat":79.5,"dir":20,"mag":1},{"g":"a","p":400,"lat":84,"dir":0,"mag":1},{"g":"a","p":400,"lat":88.5,"dir":0,"mag":1},
{"g":"a","p":600,"lat":12,"dir":320,"mag":1},{"g":"a","p":600,"lat":16.5,"dir":280,"mag":1},{"g":"a","p":600,"lat":21,"dir":320,"mag":1},{"g":"a","p":600,"lat":25.5,"dir":330,"mag":1},{"g":"a","p":600,"lat":30,"dir":350,"mag":1},{"g":"a","p":600,"lat":34.5,"dir":0,"mag":1},{"g":"a","p":600,"lat":39,"dir":330,"mag":1},{"g":"a","p":600,"lat":43.5,"dir":0,"mag":1},{"g":"a","p":600,"lat":48,"dir":0,"mag":1},{"g":"a","p":600,"lat":52.5,"dir":0,"mag":1},{"g":"a","p":600,"lat":57,"dir":10,"mag":1.2},{"g":"a","p":600,"lat":61.5,"dir":10,"mag":1.5},{"g":"a","p":600,"lat":66,"dir":5,"mag":1.3},{"g":"a","p":600,"lat":70.5,"dir":0,"mag":1.3},{"g":"a","p":600,"lat":75,"dir":10,"mag":1.3},{"g":"a","p":600,"lat":79.5,"dir":0,"mag":1},{"g":"a","p":600,"lat":84,"dir":0,"mag":1},{"g":"a","p":600,"lat":88.5,"dir":0,"mag":1},
{"g":"a","p":850,"lat":12,"dir":110,"mag":1},{"g":"a","p":850,"lat":16.5,"dir":30,"mag":1},{"g":"a","p":850,"lat":21,"dir":0,"mag":1},{"g":"a","p":850,"lat":25.5,"dir":0,"mag":1},{"g":"a","p":850,"lat":30,"dir":0,"mag":1},{"g":"a","p":850,"lat":34.5,"dir":0,"mag":1},{"g":"a","p":850,"lat":39,"dir":10,"mag":1},{"g":"a","p":850,"lat":43.5,"dir":90,"mag":1},{"g":"a","p":850,"lat":48,"dir":60,"mag":1},{"g":"a","p":850,"lat":52.5,"dir":20,"mag":1},{"g":"a","p":850,"lat":57,"dir":0,"mag":1.2},{"g":"a","p":850,"lat":61.5,"dir":20,"mag":1.2},{"g":"a","p":850,"lat":66,"dir":0,"mag":1.2},{"g":"a","p":850,"lat":70.5,"dir":0,"mag":1.3},{"g":"a","p":850,"lat":75,"dir":20,"mag":1.2},{"g":"a","p":850,"lat":79.5,"dir":0,"mag":1},{"g":"a","p":850,"lat":84,"dir":0,"mag":1},{"g":"a","p":850,"lat":88.5,"dir":0,"mag":1},
{"g":"b","p":2,"lat":12,"dir":90,"mag":1},{"g":"b","p":2,"lat":16.5,"dir":260,"mag":1},{"g":"b","p":2,"lat":21,"dir":270,"mag":1},{"g":"b","p":2,"lat":25.5,"dir":270,"mag":1},{"g":"b","p":2,"lat":30,"dir":270,"mag":1.1},{"g":"b","p":2,"lat":34.5,"dir":270,"mag":1},{"g":"b","p":2,"lat":39,"dir":275,"mag":1.1},{"g":"b","p":2,"lat":43.5,"dir":300,"mag":1},{"g":"b","p":2,"lat":48,"dir":345,"mag":1},{"g":"b","p":2,"lat":52.5,"dir":350,"mag":1},{"g":"b","p":2,"lat":57,"dir":10,"mag":1},{"g":"b","p":2,"lat":61.5,"dir":0,"mag":1},{"g":"b","p":2,"lat":66,"dir":0,"mag":1},{"g":"b","p":2,"lat":70.5,"dir":0,"mag":1},{"g":"b","p":2,"lat":75,"dir":0,"mag":1},{"g":"b","p":2,"lat":79.5,"dir":0,"mag":0.3},{"g":"b","p":2,"lat":84,"dir":0,"mag":0.3},{"g":"b","p":2,"lat":88.5,"dir":0,"mag":0.3},
{"g":"b","p":5,"lat":12,"dir":0,"mag":0.3},{"g":"b","p":5,"lat":16.5,"dir":245,"mag":1},{"g":"b","p":5,"lat":21,"dir":220,"mag":1},{"g":"b","p":5,"lat":25.5,"dir":170,"mag":1},{"g":"b","p":5,"lat":30,"dir":165,"mag":1},{"g":"b","p":5,"lat":34.5,"dir":180,"mag":1},{"g":"b","p":5,"lat":39,"dir":240,"mag":1},{"g":"b","p":5,"lat":43.5,"dir":280,"mag":1},{"g":"b","p":5,"lat":48,"dir":310,"mag":1},{"g":"b","p":5,"lat":52.5,"dir":345,"mag":1},{"g":"b","p":5,"lat":57,"dir":350,"mag":1},{"g":"b","p":5,"lat":61.5,"dir":0,"mag":1},{"g":"b","p":5,"lat":66,"dir":0,"mag":1},{"g":"b","p":5,"lat":70.5,"dir":15,"mag":1},{"g":"b","p":5,"lat":75,"dir":60,"mag":1},{"g":"b","p":5,"lat":79.5,"dir":0,"mag":0.3},{"g":"b","p":5,"lat":84,"dir":0,"mag":0.3},{"g":"b","p":5,"lat":88.5,"dir":0,"mag":0.3},
{"g":"b","p":10,"lat":12,"dir":0,"mag":0.3},{"g":"b","p":10,"lat":16.5,"dir":90,"mag":1},{"g":"b","p":10,"lat":21,"dir":100,"mag":1},{"g":"b","p":10,"lat":25.5,"dir":160,"mag":1},{"g":"b","p":10,"lat":30,"dir":160,"mag":1},{"g":"b","p":10,"lat":34.5,"dir":180,"mag":1},{"g":"b","p":10,"lat":39,"dir":240,"mag":1},{"g":"b","p":10,"lat":43.5,"dir":275,"mag":1},{"g":"b","p":10,"lat":48,"dir":300,"mag":1},{"g":"b","p":10,"lat":52.5,"dir":350,"mag":1},{"g":"b","p":10,"lat":57,"dir":350,"mag":1},{"g":"b","p":10,"lat":61.5,"dir":0,"mag":1},{"g":"b","p":10,"lat":66,"dir":20,"mag":1},{"g":"b","p":10,"lat":70.5,"dir":15,"mag":1},{"g":"b","p":10,"lat":75,"dir":20,"mag":1},{"g":"b","p":10,"lat":79.5,"dir":0,"mag":0.3},{"g":"b","p":10,"lat":84,"dir":0,"mag":0.3},{"g":"b","p":10,"lat":88.5,"dir":0,"mag":0.3},
{"g":"b","p":30,"lat":12,"dir":110,"mag":1},{"g":"b","p":30,"lat":16.5,"dir":90,"mag":1},{"g":"b","p":30,"lat":21,"dir":90,"mag":1},{"g":"b","p":30,"lat":25.5,"dir":90,"mag":1},{"g":"b","p":30,"lat":30,"dir":160,"mag":1},{"g":"b","p":30,"lat":34.5,"dir":240,"mag":1},{"g":"b","p":30,"lat":39,"dir":270,"mag":1},{"g":"b","p":30,"lat":43.5,"dir":275,"mag":1},{"g":"b","p":30,"lat":48,"dir":300,"mag":1},{"g":"b","p":30,"lat":52.5,"dir":0,"mag":1},{"g":"b","p":30,"lat":57,"dir":20,"mag":1},{"g":"b","p":30,"lat":61.5,"dir":100,"mag":1},{"g":"b","p":30,"lat":66,"dir":90,"mag":1},{"g":"b","p":30,"lat":70.5,"dir":150,"mag":1},{"g":"b","p":30,"lat":75,"dir":165,"mag":1},{"g":"b","p":30,"lat":79.5,"dir":0,"mag":0.3},{"g":"b","p":30,"lat":84,"dir":0,"mag":0.3},{"g":"b","p":30,"lat":88.5,"dir":0,"mag":0.3},
{"g":"b","p":70,"lat":12,"dir":310,"mag":1},{"g":"b","p":70,"lat":16.5,"dir":310,"mag":1},{"g":"b","p":70,"lat":21,"dir":330,"mag":1},{"g":"b","p":70,"lat":25.5,"dir":160,"mag":1},{"g":"b","p":70,"lat":30,"dir":180,"mag":1},{"g":"b","p":70,"lat":34.5,"dir":195,"mag":1},{"g":"b","p":70,"lat":39,"dir":220,"mag":1},{"g":"b","p":70,"lat":43.5,"dir":230,"mag":1},{"g":"b","p":70,"lat":48,"dir":240,"mag":1},{"g":"b","p":70,"lat":52.5,"dir":0,"mag":1},{"g":"b","p":70,"lat":57,"dir":20,"mag":1},{"g":"b","p":70,"lat":61.5,"dir":20,"mag":1},{"g":"b","p":70,"lat":66,"dir":100,"mag":1},{"g":"b","p":70,"lat":70.5,"dir":110,"mag":1},{"g":"b","p":70,"lat":75,"dir":90,"mag":1},{"g":"b","p":70,"lat":79.5,"dir":0,"mag":0.3},{"g":"b","p":70,"lat":84,"dir":0,"mag":0.3},{"g":"b","p":70,"lat":88.5,"dir":0,"mag":0.3},
{"g":"b","p":150,"lat":12,"dir":270,"mag":1},{"g":"b","p":150,"lat":16.5,"dir":300,"mag":1},{"g":"b","p":150,"lat":21,"dir":90,"mag":1},{"g":"b","p":150,"lat":25.5,"dir":120,"mag":1},{"g":"b","p":150,"lat":30,"dir":150,"mag":1},{"g":"b","p":150,"lat":34.5,"dir":180,"mag":1},{"g":"b","p":150,"lat":39,"dir":215,"mag":1},{"g":"b","p":150,"lat":43.5,"dir":250,"mag":1},{"g":"b","p":150,"lat":48,"dir":300,"mag":1},{"g":"b","p":150,"lat":52.5,"dir":0,"mag":1},{"g":"b","p":150,"lat":57,"dir":0,"mag":1},{"g":"b","p":150,"lat":61.5,"dir":20,"mag":1},{"g":"b","p":150,"lat":66,"dir":20,"mag":1},{"g":"b","p":150,"lat":70.5,"dir":20,"mag":1},{"g":"b","p":150,"lat":75,"dir":100,"mag":1},{"g":"b","p":150,"lat":79.5,"dir":0,"mag":0.3},{"g":"b","p":150,"lat":84,"dir":0,"mag":0.3},{"g":"b","p":150,"lat":88.5,"dir":0,"mag":0.3},
{"g":"b","p":250,"lat":12,"dir":270,"mag":1},{"g":"b","p":250,"lat":16.5,"dir":90,"mag":1},{"g":"b","p":250,"lat":21,"dir":90,"mag":1},{"g":"b","p":250,"lat":25.5,"dir":90,"mag":1},{"g":"b","p":250,"lat":30,"dir":120,"mag":1},{"g":"b","p":250,"lat":34.5,"dir":160,"mag":1},{"g":"b","p":250,"lat":39,"dir":215,"mag":1},{"g":"b","p":250,"lat":43.5,"dir":250,"mag":1},{"g":"b","p":250,"lat":48,"dir":300,"mag":1},{"g":"b","p":250,"lat":52.5,"dir":0,"mag":1},{"g":"b","p":250,"lat":57,"dir":20,"mag":1},{"g":"b","p":250,"lat":61.5,"dir":30,"mag":1},{"g":"b","p":250,"lat":66,"dir":100,"mag":1},{"g":"b","p":250,"lat":70.5,"dir":130,"mag":1},{"g":"b","p":250,"lat":75,"dir":160,"mag":1},{"g":"b","p":250,"lat":79.5,"dir":0,"mag":0.3},{"g":"b","p":250,"lat":84,"dir":0,"mag":0.3},{"g":"b","p":250,"lat":88.5,"dir":0,"mag":0.3},
{"g":"b","p":400,"lat":12,"dir":270,"mag":1},{"g":"b","p":400,"lat":16.5,"dir":90,"mag":1},{"g":"b","p":400,"lat":21,"dir":90,"mag":1},{"g":"b","p":400,"lat":25.5,"dir":95,"mag":1},{"g":"b","p":400,"lat":30,"dir":130,"mag":1},{"g":"b","p":400,"lat":34.5,"dir":160,"mag":1},{"g":"b","p":400,"lat":39,"dir":170,"mag":1},{"g":"b","p":400,"lat":43.5,"dir":245,"mag":1},{"g":"b","p":400,"lat":48,"dir":300,"mag":1},{"g":"b","p":400,"lat":52.5,"dir":0,"mag":1},{"g":"b","p":400,"lat":57,"dir":20,"mag":1},{"g":"b","p":400,"lat":61.5,"dir":100,"mag":1},{"g":"b","p":400,"lat":66,"dir":90,"mag":1},{"g":"b","p":400,"lat":70.5,"dir":160,"mag":1},{"g":"b","p":400,"lat":75,"dir":150,"mag":1},{"g":"b","p":400,"lat":79.5,"dir":0,"mag":0.3},{"g":"b","p":400,"lat":84,"dir":0,"mag":0.3},{"g":"b","p":400,"lat":88.5,"dir":0,"mag":0.3},
{"g":"b","p":600,"lat":12,"dir":90,"mag":1},{"g":"b","p":600,"lat":16.5,"dir":90,"mag":1},{"g":"b","p":600,"lat":21,"dir":130,"mag":1},{"g":"b","p":600,"lat":25.5,"dir":150,"mag":1},{"g":"b","p":600,"lat":30,"dir":170,"mag":1},{"g":"b","p":600,"lat":34.5,"dir":180,"mag":1.2},{"g":"b","p":600,"lat":39,"dir":180,"mag":1.2},{"g":"b","p":600,"lat":43.5,"dir":200,"mag":1},{"g":"b","p":600,"lat":48,"dir":0,"mag":1},{"g":"b","p":600,"lat":52.5,"dir":0,"mag":1},{"g":"b","p":600,"lat":57,"dir":0,"mag":1},{"g":"b","p":600,"lat":61.5,"dir":20,"mag":1},{"g":"b","p":600,"lat":66,"dir":150,"mag":1},{"g":"b","p":600,"lat":70.5,"dir":185,"mag":1},{"g":"b","p":600,"lat":75,"dir":0,"mag":0.3},{"g":"b","p":600,"lat":79.5,"dir":0,"mag":0.3},{"g":"b","p":600,"lat":84,"dir":0,"mag":1},{"g":"b","p":600,"lat":88.5,"dir":0,"mag":0.3},
{"g":"b","p":850,"lat":12,"dir":180,"mag":1},{"g":"b","p":850,"lat":16.5,"dir":180,"mag":1},{"g":"b","p":850,"lat":21,"dir":180,"mag":1},{"g":"b","p":850,"lat":25.5,"dir":170,"mag":1},{"g":"b","p":850,"lat":30,"dir":180,"mag":1.2},{"g":"b","p":850,"lat":34.5,"dir":180,"mag":1.2},{"g":"b","p":850,"lat":39,"dir":180,"mag":1.2},{"g":"b","p":850,"lat":43.5,"dir":270,"mag":1},{"g":"b","p":850,"lat":48,"dir":0,"mag":1},{"g":"b","p":850,"lat":52.5,"dir":0,"mag":1},{"g":"b","p":850,"lat":57,"dir":0,"mag":1},{"g":"b","p":850,"lat":61.5,"dir":20,"mag":1},{"g":"b","p":850,"lat":66,"dir":120,"mag":1},{"g":"b","p":850,"lat":70.5,"dir":180,"mag":1},{"g":"b","p":850,"lat":75,"dir":0,"mag":0.3},{"g":"b","p":850,"lat":79.5,"dir":0,"mag":0.3},{"g":"b","p":850,"lat":84,"dir":0,"mag":0.3},{"g":"b","p":850,"lat":88.5,"dir":0,"mag":0.3}
]
},
"hconcat": [
{
 "width": 528, "height": 530,
 "title": {"text": "Long Waves Day −5/0 EP Anomaly"},
 "encoding": {
  "x": {"field": "lat", "type": "quantitative", "scale": {"domain": [10, 90], "nice": false, "zero": false}, "axis": {"values": [10,20,30,40,50,60,70,80,90], "labelExpr": "datum.value + 'N'", "title": "Latitude"}},
  "y": {"field": "p", "type": "quantitative", "scale": {"type": "log", "domain": [1, 1000], "reverse": true, "nice": false}, "axis": {"values": [1,2,3,5,7,10,20,30,50,70,100,200,300,400,500,700,850,1000], "labelExpr": "'' + datum.value", "title": "Pressure (hPa)"}}
 },
 "layer": [
  {"data": {"name": "contours"}, "transform": [{"filter": "datum.g == 'a'"}], "mark": {"type": "line", "color": "black", "strokeWidth": 1, "interpolate": "catmull-rom"}, "encoding": {"detail": {"field": "id"}, "order": {"field": "o", "type": "quantitative"}, "strokeDash": {"field": "s", "type": "nominal", "scale": {"domain": ["neg", "pos"], "range": [[3, 2], [1, 0]]}, "legend": null}}},
  {"data": {"name": "arrows"}, "transform": [{"filter": "datum.g == 'a' && datum.mag >= 2"}], "mark": {"type": "point", "shape": "M0,1L0,-1M-0.2,-0.6L0,-1L0.2,-0.6", "filled": false, "color": "black", "stroke": "black", "strokeWidth": 1.1, "opacity": 1}, "encoding": {"angle": {"field": "dir", "type": "quantitative", "scale": null}, "size": {"field": "mag", "type": "quantitative", "scale": {"type": "pow", "exponent": 2, "domain": [0, 12], "range": [0, 2304]}, "legend": null}}},
  {"data": {"name": "arrows"}, "transform": [{"filter": "datum.g == 'a' && datum.mag < 2"}], "mark": {"type": "point", "shape": "M-1.4,0.9L0,-0.8L1.4,0.9", "filled": false, "color": "black", "stroke": "black", "strokeWidth": 1.1, "opacity": 1}, "encoding": {"angle": {"field": "dir", "type": "quantitative", "scale": null}, "size": {"field": "mag", "type": "quantitative", "scale": {"type": "pow", "exponent": 2, "domain": [0, 12], "range": [0, 2304]}, "legend": null}}},
  {"data": {"name": "labels"}, "transform": [{"filter": "datum.g == 'a'"}], "mark": {"type": "text", "font": "Liberation Sans", "fontSize": 13, "color": "white", "stroke": "white", "strokeWidth": 5, "align": "center", "baseline": "middle"}, "encoding": {"text": {"field": "t", "type": "nominal"}}},
  {"data": {"name": "labels"}, "transform": [{"filter": "datum.g == 'a'"}], "mark": {"type": "text", "font": "Liberation Sans", "fontSize": 13, "color": "black", "align": "center", "baseline": "middle"}, "encoding": {"text": {"field": "t", "type": "nominal"}}},
  {"data": {"name": "tags"}, "transform": [{"filter": "datum.g == 'a'"}], "mark": {"type": "text", "font": "DejaVu Serif", "fontSize": 34, "color": "black", "align": "center", "baseline": "middle"}, "encoding": {"text": {"field": "t", "type": "nominal"}}}
 ]
},
{
 "width": 528, "height": 530,
 "title": {"text": "Short Waves Day −5/0 EP Anomaly"},
 "encoding": {
  "x": {"field": "lat", "type": "quantitative", "scale": {"domain": [10, 90], "nice": false, "zero": false}, "axis": {"values": [10,20,30,40,50,60,70,80,90], "labelExpr": "datum.value + 'N'", "title": "Latitude"}},
  "y": {"field": "p", "type": "quantitative", "scale": {"type": "log", "domain": [1, 1000], "reverse": true, "nice": false}, "axis": {"values": [1,2,3,5,7,10,20,30,50,70,100,200,300,400,500,700,850,1000], "labelExpr": "'' + datum.value", "title": "Pressure (hPa)"}}
 },
 "layer": [
  {"data": {"name": "contours"}, "transform": [{"filter": "datum.g == 'b'"}], "mark": {"type": "line", "color": "black", "strokeWidth": 1, "interpolate": "catmull-rom"}, "encoding": {"detail": {"field": "id"}, "order": {"field": "o", "type": "quantitative"}, "strokeDash": {"field": "s", "type": "nominal", "scale": {"domain": ["neg", "pos"], "range": [[3, 2], [1, 0]]}, "legend": null}}},
  {"data": {"name": "arrows"}, "transform": [{"filter": "datum.g == 'b' && datum.mag >= 2"}], "mark": {"type": "point", "shape": "M0,1L0,-1M-0.2,-0.6L0,-1L0.2,-0.6", "filled": false, "color": "black", "stroke": "black", "strokeWidth": 1.1, "opacity": 1}, "encoding": {"angle": {"field": "dir", "type": "quantitative", "scale": null}, "size": {"field": "mag", "type": "quantitative", "scale": {"type": "pow", "exponent": 2, "domain": [0, 12], "range": [0, 2304]}, "legend": null}}},
  {"data": {"name": "arrows"}, "transform": [{"filter": "datum.g == 'b' && datum.mag < 2"}], "mark": {"type": "point", "shape": "M-1.4,0.9L0,-0.8L1.4,0.9", "filled": false, "color": "black", "stroke": "black", "strokeWidth": 1.1, "opacity": 1}, "encoding": {"angle": {"field": "dir", "type": "quantitative", "scale": null}, "size": {"field": "mag", "type": "quantitative", "scale": {"type": "pow", "exponent": 2, "domain": [0, 12], "range": [0, 2304]}, "legend": null}}},
  {"data": {"name": "labels"}, "transform": [{"filter": "datum.g == 'b'"}], "mark": {"type": "text", "font": "Liberation Sans", "fontSize": 13, "color": "white", "stroke": "white", "strokeWidth": 5, "align": "center", "baseline": "middle"}, "encoding": {"text": {"field": "t", "type": "nominal"}}},
  {"data": {"name": "labels"}, "transform": [{"filter": "datum.g == 'b'"}], "mark": {"type": "text", "font": "Liberation Sans", "fontSize": 13, "color": "black", "align": "center", "baseline": "middle"}, "encoding": {"text": {"field": "t", "type": "nominal"}}},
  {"data": {"name": "tags"}, "transform": [{"filter": "datum.g == 'b'"}], "mark": {"type": "text", "font": "DejaVu Serif", "fontSize": 34, "color": "black", "align": "center", "baseline": "middle"}, "encoding": {"text": {"field": "t", "type": "nominal"}}}
 ]
}
]
}
